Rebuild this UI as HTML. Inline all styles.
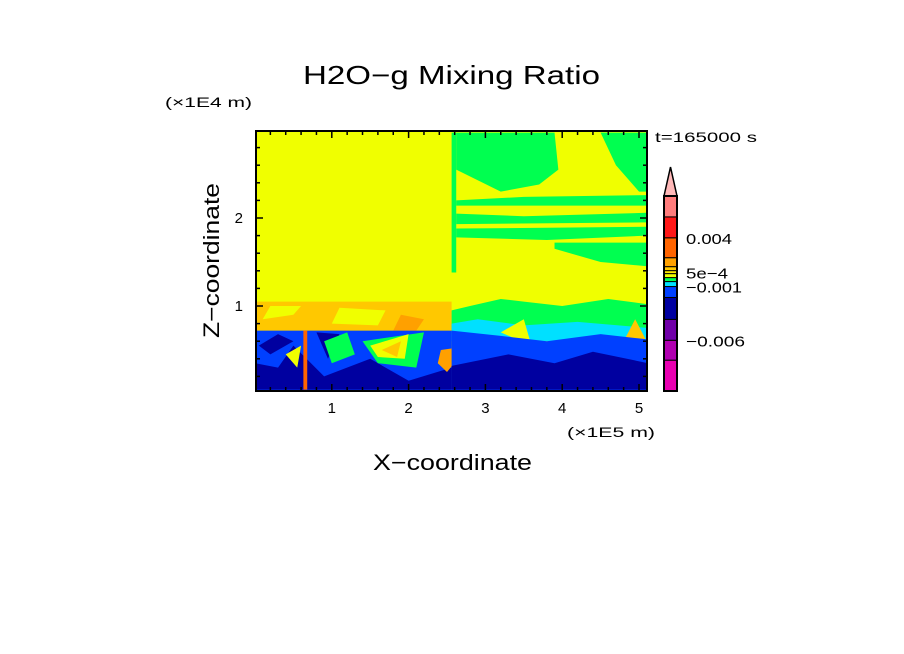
<!DOCTYPE html>
<html><head><meta charset="utf-8"><style>
html,body{margin:0;padding:0;background:#fff;}
svg{display:block;font-family:"Liberation Sans","DejaVu Sans",sans-serif;}
</style></head><body>
<svg id="chart" width="904" height="654" viewBox="0 0 904 654">
<defs><clipPath id="plotclip"><rect x="256" y="131" width="391" height="260"/></clipPath></defs>
<text x="303" y="84" textLength="297" lengthAdjust="spacingAndGlyphs" font-size="26">H2O−g Mixing Ratio</text>
<text x="165" y="107" textLength="87" lengthAdjust="spacingAndGlyphs" font-size="14">(×1E4 m)</text>
<text x="655" y="142" textLength="102" lengthAdjust="spacingAndGlyphs" font-size="14">t=165000 s</text>
<text x="567" y="437" textLength="88" lengthAdjust="spacingAndGlyphs" font-size="14">(×1E5 m)</text>
<text x="373" y="470" textLength="159" lengthAdjust="spacingAndGlyphs" font-size="22">X−coordinate</text>
<text transform="translate(219,338) rotate(-90)" textLength="155" lengthAdjust="spacingAndGlyphs" font-size="22">Z−coordinate</text>
<g id="field" clip-path="url(#plotclip)"></g>
<g id="axes"></g>
<g id="cbar"></g>
</svg>
<script>
const xTicks=[1,2,3,4,5];
const zTicks=[1,2];
const cbarColors=["#e800b0","#b000b0","#7000a8","#0000a0","#0040ff","#00e0ff","#00ff50","#f0ff00","#ffe800","#ffc800","#ffa000","#ff6400","#ff1818","#ff7c7c"];
const cbarLabels=[{v:"0.004",i:12,w:46},{v:"5e-4",i:8.3,w:42},{v:"-0.001",i:5,w:56},{v:"-0.006",i:2,w:59}];
const regions=[
 {c:"#f0ff00",p:[[0,0],[5.12,0],[5.12,3],[0,3]]},
 {c:"#ffc800",p:[[0,0.72],[2.56,0.72],[2.56,1.05],[0,1.05]]},
 {c:"#f0ff00",p:[[0.1,0.85],[0.5,0.9],[0.6,1.0],[0.2,1.0]]},
 {c:"#f0ff00",p:[[1.0,0.8],[1.6,0.78],[1.7,0.95],[1.1,0.98]]},
 {c:"#ffa000",p:[[1.8,0.72],[2.1,0.72],[2.2,0.85],[1.9,0.9]]},
 {c:"#0040ff",p:[[0,0],[2.56,0],[2.56,0.72],[0,0.72]]},
 {c:"#0000a0",p:[[0,0.35],[0.3,0.3],[0.5,0.55],[0.9,0.2],[1.5,0.4],[2.0,0.15],[2.56,0.3],[2.56,0.05],[0,0.05]]},
 {c:"#0000a0",p:[[0.05,0.55],[0.3,0.68],[0.5,0.6],[0.2,0.45]]},
 {c:"#0000a0",p:[[0.8,0.7],[1.1,0.68],[0.95,0.4]]},
 {c:"#00ff50",p:[[0.9,0.6],[1.2,0.7],[1.3,0.45],[1.0,0.35]]},
 {c:"#00ff50",p:[[1.4,0.6],[2.2,0.7],[2.1,0.3],[1.6,0.35]]},
 {c:"#f0ff00",p:[[1.5,0.55],[2.0,0.68],[1.95,0.4],[1.6,0.42]]},
 {c:"#ffc800",p:[[1.65,0.5],[1.9,0.6],[1.85,0.42]]},
 {c:"#f0ff00",p:[[0.4,0.45],[0.6,0.55],[0.55,0.3]]},
 {c:"#ff6400",p:[[0.63,0.05],[0.68,0.05],[0.68,0.72],[0.63,0.72]]},
 {c:"#ffa000",p:[[2.38,0.35],[2.5,0.25],[2.64,0.4],[2.58,0.52],[2.42,0.5]]},
 {c:"#00ff50",p:[[2.56,1.38],[2.62,1.38],[2.62,2.97],[2.56,2.97]]},
 {c:"#00ff50",p:[[2.62,2.97],[2.62,2.55],[3.2,2.3],[3.7,2.38],[3.95,2.55],[3.9,2.97]]},
 {c:"#00ff50",p:[[4.5,2.97],[4.7,2.6],[5.0,2.3],[5.12,2.3],[5.12,2.97]]},
 {c:"#00ff50",p:[[2.62,2.14],[5.12,2.14],[5.12,2.26],[3.5,2.24],[2.62,2.2]]},
 {c:"#00ff50",p:[[2.62,1.93],[5.12,1.95],[5.12,2.06],[3.5,2.02],[2.62,2.05]]},
 {c:"#00ff50",p:[[2.62,1.78],[3.8,1.75],[5.12,1.8],[5.12,1.9],[2.62,1.88]]},
 {c:"#00ff50",p:[[3.9,1.65],[4.5,1.5],[5.12,1.45],[5.12,1.72],[3.9,1.72]]},
 {c:"#00ff50",p:[[2.56,0.72],[5.12,0.72],[5.12,1.02],[4.6,1.08],[4.0,1.0],[3.5,1.05],[3.2,1.08],[2.8,1.0],[2.56,0.95]]},
 {c:"#00e0ff",p:[[2.56,0.6],[5.12,0.6],[5.12,0.75],[4.2,0.82],[3.5,0.78],[2.9,0.85],[2.56,0.8]]},
 {c:"#f0ff00",p:[[3.2,0.7],[3.5,0.85],[3.6,0.55]]},
 {c:"#ffc800",p:[[4.8,0.6],[4.95,0.85],[5.1,0.6],[4.95,0.35]]},
 {c:"#0040ff",p:[[2.56,0],[5.12,0],[5.12,0.62],[4.5,0.68],[3.8,0.6],[3.2,0.66],[2.56,0.72]]},
 {c:"#0000a0",p:[[2.56,0.05],[5.12,0.05],[5.12,0.35],[4.4,0.48],[3.9,0.35],[3.3,0.45],[2.56,0.32]]},
 {c:"#00e0ff",p:[[0,0],[5.12,0],[5.12,0.04],[0,0.04]]}
];
const NS="http://www.w3.org/2000/svg";
const X0=256,X1=647,Y0=131,Y1=391;
const xs=v=>255+v*76.8;
const zs=v=>394-v*88;
const field=document.getElementById('field');
regions.forEach(r=>{
 const pg=document.createElementNS(NS,'polygon');
 pg.setAttribute('points',r.p.map(q=>xs(q[0])+','+zs(q[1])).join(' '));
 pg.setAttribute('fill',r.c);
 
 
 field.appendChild(pg);
});
const axes=document.getElementById('axes');
function line(x1,y1,x2,y2,w){const l=document.createElementNS(NS,'line');l.setAttribute('x1',x1);l.setAttribute('y1',y1);l.setAttribute('x2',x2);l.setAttribute('y2',y2);l.setAttribute('stroke','#000');l.setAttribute('stroke-width',w);axes.appendChild(l);return l;}
const fr=document.createElementNS(NS,'rect');
fr.setAttribute('x',X0);fr.setAttribute('y',Y0);fr.setAttribute('width',X1-X0);fr.setAttribute('height',Y1-Y0);
fr.setAttribute('fill','none');fr.setAttribute('stroke','#000');fr.setAttribute('stroke-width','2');


axes.appendChild(fr);
for(let i=1;i<=25;i++){const v=i*0.2;const x=xs(v);if(x>=X1)break;const L=(i%5===0)?7:4;
 line(x,Y1,x,Y1-L,1.5);line(x,Y0,x,Y0+L,1.5);}
for(let i=1;i<=14;i++){const v=i*0.2;const y=zs(v);if(y<=Y0)break;const L=(i%5===0)?7:4;
 line(X0,y,X0+L,y,1.5);line(X1,y,X1-L,y,1.5);}
xTicks.forEach(v=>{const t=document.createElementNS(NS,'text');t.setAttribute('x',xs(v));t.setAttribute('y',413);t.setAttribute('text-anchor','middle');t.setAttribute('font-size','15');t.textContent=v;
 
 
 axes.appendChild(t);});
zTicks.forEach(v=>{const t=document.createElementNS(NS,'text');t.setAttribute('x',243);t.setAttribute('y',zs(v)+5);t.setAttribute('text-anchor','end');t.setAttribute('font-size','15');t.textContent=v;
 
 
 axes.appendChild(t);});
const cb=document.getElementById('cbar');
const cbTop=196,cbBot=391,cbX=664,cbW=13;
const wts=[31,20,21,22,11,5,4,4,3,4,9,20,21,21];
const tot=wts.reduce((a,b)=>a+b,0);
let y=cbBot;
cbarColors.forEach((c,i)=>{const h=(cbBot-cbTop)*wts[i]/tot;const r=document.createElementNS(NS,'rect');
 r.setAttribute('x',cbX);r.setAttribute('y',y-h);r.setAttribute('width',cbW);r.setAttribute('height',h);r.setAttribute('fill',c);r.setAttribute('stroke','#000');r.setAttribute('stroke-width','1');
 
 
 cb.appendChild(r);y-=h;});
const tri=document.createElementNS(NS,'polygon');
tri.setAttribute('points',`${cbX},${cbTop} ${cbX+cbW},${cbTop} ${cbX+cbW/2},167`);
tri.setAttribute('fill','#ffb8b8');tri.setAttribute('stroke','#000');tri.setAttribute('stroke-width','1.5');


cb.appendChild(tri);
const fb=document.createElementNS(NS,'rect');
fb.setAttribute('x',cbX);fb.setAttribute('y',cbTop);fb.setAttribute('width',cbW);fb.setAttribute('height',cbBot-cbTop);fb.setAttribute('fill','none');fb.setAttribute('stroke','#000');fb.setAttribute('stroke-width','2');
cb.appendChild(fb);
const segY=i=>{let s=0;for(let k=0;k<Math.floor(i);k++)s+=wts[k];s+=(i-Math.floor(i))*(wts[Math.floor(i)]||0);return cbBot-(cbBot-cbTop)*s/tot;};
cbarLabels.forEach(o=>{const t=document.createElementNS(NS,'text');t.setAttribute('x',686);t.setAttribute('y',segY(o.i)+6);t.setAttribute('font-size','15');t.setAttribute('textLength',o.w);t.setAttribute('lengthAdjust','spacingAndGlyphs');t.textContent=o.v.replace('-','−');
 
 
 cb.appendChild(t);});
</script>
</body></html>
